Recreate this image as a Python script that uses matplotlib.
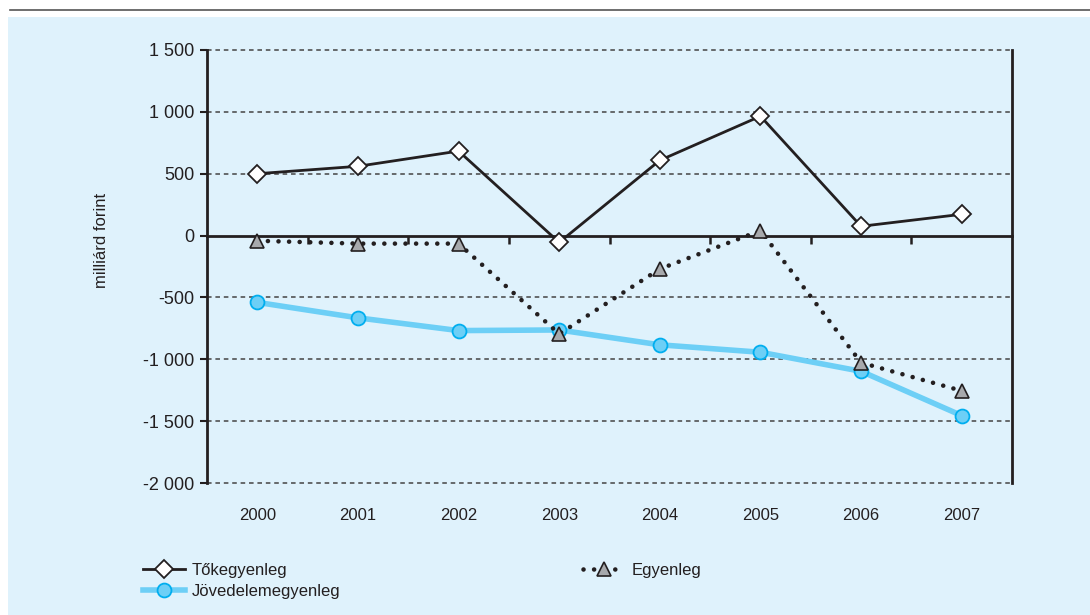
import numpy as np
import matplotlib.pyplot as plt
from matplotlib.patches import Rectangle
from matplotlib.lines import Line2D

years = ['2000', '2001', '2002', '2003', '2004', '2005', '2006', '2007']
tokegyenleg = [500, 560, 683, -55, 608, 965, 75, 172]
egyenleg = [-42, -65, -65, -795, -270, 40, -1027, -1255]
jovedelem = [-540, -665, -768, -763, -883, -943, -1097, -1455]

yticks = [1500, 1000, 500, 0, -500, -1000, -1500, -2000]
ytick_labels = ['1 500', '1 000', '500', '0', '-500', '-1 000', '-1 500', '-2 000']

bg = '#DFF2FC'
dark = '#231F20'
blue = '#6DCFF6'
blue_edge = '#00AEEF'
grey = '#A7A9AC'

plt.rcParams['font.family'] = ['Liberation Sans', 'DejaVu Sans']

fig = plt.figure(figsize=(10.9, 6.15), dpi=100)
fig.patch.set_facecolor('white')

# light blue panel and the thin rule above it
fig.add_artist(Rectangle((8 / 1090, 0), 1 - 8 / 1090, 1 - 17 / 615,
                         transform=fig.transFigure, facecolor=bg,
                         edgecolor='none', zorder=0))
fig.add_artist(Line2D([10 / 1090, 1], [1 - 9.5 / 615, 1 - 9.5 / 615],
                      transform=fig.transFigure, color='#555555', lw=1.2))

ax = fig.add_axes([207 / 1090, 1 - 483 / 615, (1012 - 207) / 1090, (483 - 50) / 615])
ax.set_facecolor('none')

x = np.arange(len(years))
ymin, ymax = -2000, 1500
ax.set_xlim(-0.5, len(years) - 0.5)
ax.set_ylim(ymin, ymax)

# dashed grid (zero is the solid axis line)
for v in yticks:
    if v != 0:
        ax.axhline(v, color='#444444', lw=1.1, dashes=(3, 2.5), zorder=1,
                   clip_on=False)

l_egy, = ax.plot(x, egyenleg, color=dark, lw=3.3, linestyle=(0, (0.01, 2.3)),
                 dash_capstyle='round', marker='^', markersize=10,
                 markerfacecolor=grey, markeredgecolor=dark, markeredgewidth=1.2,
                 zorder=3)
l_jov, = ax.plot(x, jovedelem, color=blue, lw=4, marker='o', markersize=10,
                 markerfacecolor=blue, markeredgecolor=blue_edge,
                 markeredgewidth=1.3, zorder=2)
l_toke, = ax.plot(x, tokegyenleg, color=dark, lw=2, marker='D', markersize=9,
                  markerfacecolor='white', markeredgecolor=dark,
                  markeredgewidth=1.3, zorder=4)

# spines
ax.spines['top'].set_visible(False)
ax.spines['bottom'].set_visible(False)
for s in ['left', 'right']:
    ax.spines[s].set_color(dark)
    ax.spines[s].set_linewidth(2)

ax.set_yticks(yticks)
ax.set_yticklabels(ytick_labels)
ax.tick_params(axis='y', direction='out', length=5, width=1.5, color=dark,
               labelsize=13, labelcolor=dark, pad=4)

ax.set_xticks(x)
ax.set_xticklabels(years)
ax.tick_params(axis='x', length=0, labelsize=12, labelcolor=dark, pad=18)

# zero line with category separators hanging below it
zero_frac = (0 - ymin) / (ymax - ymin)
sec = ax.secondary_xaxis(zero_frac)
sec.set_xticks(np.arange(0.5, len(years) - 0.5, 1))
sec.set_xticklabels([])
sec.tick_params(axis='x', direction='in', length=6, width=1.8, color=dark,
                labelbottom=False, labeltop=False)
for s in ['top', 'bottom']:
    sec.spines[s].set_color(dark)
    sec.spines[s].set_linewidth(2)

ax.set_ylabel('milliárd forint', fontsize=12, color=dark)
ax.yaxis.set_label_coords(-0.122, 0.56)

fig.legend([l_toke, l_jov, l_egy],
           ['Tőkegyenleg', 'Jövedelemegyenleg', 'Egyenleg'],
           ncol=2, loc='upper left', bbox_to_anchor=(128 / 1090, 1 - 548 / 615),
           frameon=False, handlelength=2.5, handletextpad=0.4,
           columnspacing=14.6, labelspacing=0.35,
           prop={'size': 12}, labelcolor=dark)

fig.savefig('out.png', dpi=100, facecolor=fig.get_facecolor())
